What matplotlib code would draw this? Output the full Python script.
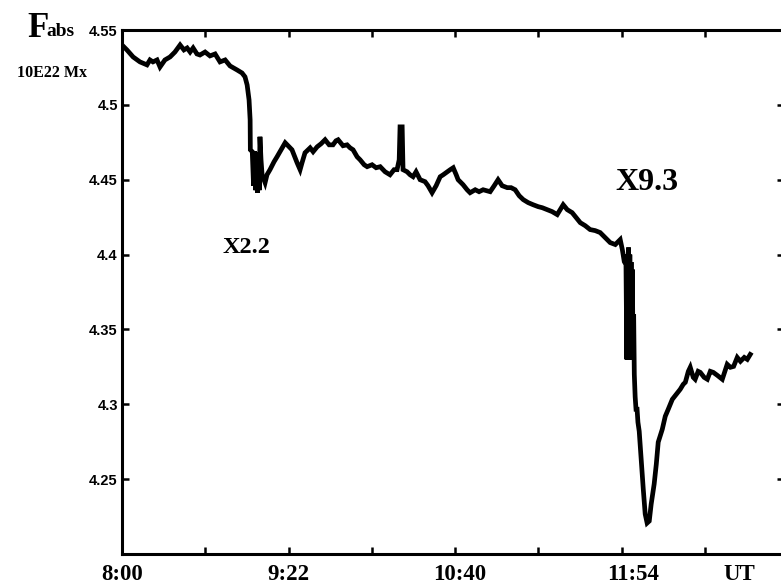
import matplotlib
matplotlib.use('Agg')

import matplotlib.pyplot as plt

# minutes after 8:00 UT and total unsigned flux (10^22 Mx)
minutes = [
    0.0, 2.3, 5.2, 8.4, 11.7, 13.1, 14.5, 16.4, 17.8, 20.1,
    22.5, 24.8, 27.2, 29.0, 30.5, 31.9, 33.3, 35.1, 36.5, 38.9,
    41.2, 43.6, 45.9, 48.3, 50.6, 53.9, 56.2, 57.6, 58.6, 59.5,
    60.0, 60.1, 61.0, 61.6, 62.1, 62.6, 63.0, 63.4, 63.7, 64.3,
    64.6, 65.1, 65.6, 67.0,
    67.9, 69.3, 71.2, 72.6, 74.5, 76.4, 78.2, 79.6, 82.0, 83.4,
    84.3, 85.7, 88.1, 89.5, 91.4, 93.2, 95.1, 97.0, 98.8, 100.2,
    101.2, 103.5, 105.4, 106.8, 108.2, 110.1, 111.5, 113.4, 114.8, 117.1,
    119.0, 120.9, 123.2, 125.5, 127.4, 128.8, 129.8, 130.2, 131.2, 131.6,
    133.5, 134.9, 136.3, 137.7, 139.6, 141.9, 143.3, 145.2, 147.1, 149.0,
    150.4, 152.3, 153.7, 155.1, 156.5, 157.4, 159.7, 161.6, 163.0, 165.4,
    167.2, 169.1, 172.4, 174.3, 176.1, 178.0, 180.4, 182.2, 184.1, 186.0,
    187.9, 190.2, 192.5, 194.9, 196.8, 199.1, 201.4, 203.8, 205.2, 206.6,
    208.5, 210.8, 212.7, 214.6, 216.9, 219.2, 221.6, 223.9, 226.3, 228.6,
    231.0, 232.4, 233.3, 234.3, 235.2, 236.0,
    236.4, 236.6, 236.9, 237.2, 237.5, 237.8, 238.1, 238.4, 238.7, 239.0,
    239.3, 239.6, 239.9, 240.3, 240.7, 241.2, 241.6, 242.2, 243.1,
    244.1, 245.0, 245.9, 246.9, 247.8, 249.2, 250.2, 251.1, 253.0, 254.4,
    255.8, 257.7, 259.6, 261.4, 262.8, 263.8, 265.2, 266.1, 267.5, 268.4,
    269.8, 270.8, 272.6, 274.1, 275.5, 276.9, 278.8, 281.1, 282.6, 283.4,
    284.9, 286.4, 288.1, 289.6, 291.4, 292.8, 294.2,
]
flux = [
    4.5400, 4.5367, 4.5320, 4.5287, 4.5267, 4.5300, 4.5287, 4.5300, 4.5253, 4.5300,
    4.5320, 4.5353, 4.5400, 4.5367, 4.5380, 4.5353, 4.5380, 4.5340, 4.5333, 4.5353,
    4.5327, 4.5340, 4.5287, 4.5300, 4.5260, 4.5233, 4.5213, 4.5187, 4.5133, 4.5033,
    4.4900, 4.4700, 4.4687, 4.4460, 4.4690, 4.4430, 4.4680, 4.4413, 4.4633, 4.4430,
    4.4787, 4.4633, 4.4533, 4.4480,
    4.4533, 4.4567, 4.4620, 4.4653, 4.4700, 4.4747, 4.4720, 4.4700, 4.4613, 4.4567,
    4.4613, 4.4680, 4.4713, 4.4687, 4.4720, 4.4740, 4.4767, 4.4733, 4.4733, 4.4760,
    4.4767, 4.4727, 4.4733, 4.4713, 4.4700, 4.4653, 4.4633, 4.4600, 4.4587, 4.4600,
    4.4580, 4.4587, 4.4553, 4.4533, 4.4567, 4.4567, 4.4633, 4.4853, 4.4853, 4.4567,
    4.4553, 4.4533, 4.4520, 4.4553, 4.4500, 4.4487, 4.4460, 4.4413, 4.4460, 4.4520,
    4.4533, 4.4553, 4.4567, 4.4580, 4.4533, 4.4500, 4.4467, 4.4433, 4.4413, 4.4433,
    4.4420, 4.4433, 4.4420, 4.4460, 4.4500, 4.4460, 4.4447, 4.4447, 4.4433, 4.4393,
    4.4367, 4.4347, 4.4333, 4.4320, 4.4313, 4.4300, 4.4287, 4.4267, 4.4300, 4.4333,
    4.4300, 4.4280, 4.4247, 4.4213, 4.4193, 4.4167, 4.4160, 4.4147, 4.4113, 4.4080,
    4.4067, 4.4087, 4.4100, 4.4033, 4.3953, 4.3933,
    4.3300, 4.4000, 4.3300, 4.4047, 4.3300, 4.4000, 4.3350, 4.3950, 4.3300, 4.3900,
    4.3300, 4.3600, 4.3200, 4.3050, 4.2967, 4.2967, 4.2880, 4.2820, 4.2633,
    4.2433, 4.2267, 4.2207, 4.2220, 4.2333, 4.2467, 4.2600, 4.2747, 4.2833, 4.2920,
    4.2967, 4.3033, 4.3067, 4.3100, 4.3133, 4.3147, 4.3220, 4.3247, 4.3180, 4.3167,
    4.3220, 4.3213, 4.3180, 4.3167, 4.3220, 4.3213, 4.3193, 4.3167, 4.3233, 4.3267,
    4.3247, 4.3253, 4.3313, 4.3287, 4.3313, 4.3300, 4.3333,
]

tick_minutes = [0, 39, 78, 117, 156, 195, 234, 273]
y_ticks = [4.25, 4.3, 4.35, 4.4, 4.45, 4.5, 4.55]
y_labels = ['4.25', '4.3', '4.35', '4.4', '4.45', '4.5', '4.55']
time_labels = ['8:00', '9:22', '10:40', '11:54', 'UT']
time_label_pos = [0, 77.8, 158.3, 239.4, 289]
flares = ['X2.2', 'X9.3']
flare_pos = [(47.3, 4.401), (230.9, 4.443)]
flare_size = [17.5, 23]

serif = 'Liberation Serif'
sans = 'Liberation Sans'

fig = plt.figure(figsize=(7.81, 5.87), dpi=100)
ax = fig.add_axes([122 / 781, 33 / 587, 662 / 781, 524 / 587])

ax.plot(minutes, flux, color='black', linewidth=3.4, solid_joinstyle='miter')

ax.set_xlim(0, 310)
ax.set_ylim(4.2, 4.55)

for side in ['left', 'bottom', 'top', 'right']:
    ax.spines[side].set_linewidth(2.2)

ax.set_xticks(tick_minutes)
ax.set_xticklabels([])
ax.tick_params(axis='x', direction='in', length=5, width=1.8, top=True)
ax.set_yticks(y_ticks)
ax.set_yticklabels(y_labels, fontfamily=sans, fontweight='bold', fontsize=10.5)
ax.tick_params(axis='y', direction='in', length=5, width=1.8, pad=3,
               right=True)
# right-hand ticks are barely visible, keep them pale
for t in ax.yaxis.get_major_ticks():
    t.tick2line.set_color('#e8e8e8')

for lab, x in zip(time_labels, time_label_pos):
    ax.text(x, -0.0496, lab, transform=ax.get_xaxis_transform(),
            ha='center', va='baseline', fontfamily=serif,
            fontweight='bold', fontsize=16.5)

for lab, (x, y), fs in zip(flares, flare_pos, flare_size):
    ax.text(x, y, lab, ha='left', va='baseline', fontfamily=serif,
            fontweight='bold', fontsize=fs)

fig.text(27 / 781, 1 - 37 / 587, 'F', fontfamily=serif, fontweight='bold',
         fontsize=25, va='baseline')
fig.text(46 / 781, 1 - 36 / 587, 'abs', fontfamily=serif, fontweight='bold',
         fontsize=14, va='baseline')
fig.text(17 / 781, 1 - 77 / 587, '10E22 Mx', fontfamily=serif,
         fontweight='bold', fontsize=11.5, va='baseline')

fig.savefig('out.png', dpi=100)
